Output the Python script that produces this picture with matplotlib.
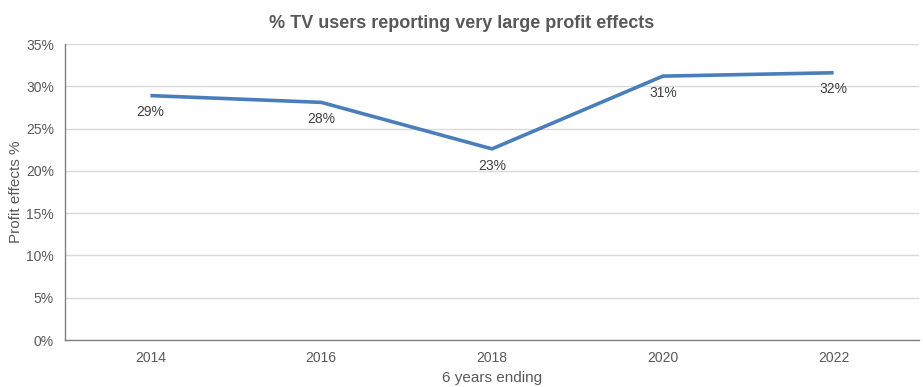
import matplotlib.pyplot as plt

plt.rcParams['font.family'] = ['Liberation Sans', 'DejaVu Sans']

years = ['2014', '2016', '2018', '2020', '2022']
profit_pct = [28.9, 28.1, 22.6, 31.2, 31.6]
point_labels = ['29%', '28%', '23%', '31%', '32%']
y_ticks = [0, 5, 10, 15, 20, 25, 30, 35]

fig = plt.figure(figsize=(9.23, 3.87), dpi=100)
ax = fig.add_axes([0.0704, 0.1214, 0.9253, 0.7649])

x = range(len(years))
ax.plot(x, profit_pct, color='#4a7ebb', linewidth=2.6, solid_capstyle='butt')
for xi, v, lab in zip(x, profit_pct, point_labels):
    ax.annotate(lab, (xi, v), xytext=(0, -7), textcoords='offset points',
                ha='center', va='top', fontsize=10, color='#404040')

ax.set_xlim(-0.5, len(years) - 0.5)
ax.set_ylim(0, 35)
ax.set_xticks(list(x))
ax.set_xticklabels(years)
ax.set_yticks(y_ticks)
ax.set_yticklabels([f'{t}%' for t in y_ticks])
ax.tick_params(length=0, labelsize=10, labelcolor='#595959', pad=8)
ax.tick_params(axis='x', pad=8)
ax.grid(axis='y', color='#d9d9d9', linewidth=1)
ax.set_axisbelow(True)
for s in ['top', 'right']:
    ax.spines[s].set_visible(False)
for s in ['left', 'bottom']:
    ax.spines[s].set_color('#808080')
    ax.spines[s].set_linewidth(1)

ax.set_xlabel('6 years ending', fontsize=11, color='#595959', labelpad=4)
ax.set_ylabel('Profit effects %', fontsize=11, color='#595959')
ax.yaxis.set_label_coords(-0.049, 0.5)
fig.text(0.5, 0.94, '% TV users reporting very large profit effects',
         ha='center', va='center', fontsize=13, fontweight='bold', color='#595959')

fig.savefig('out.png', dpi=100)
